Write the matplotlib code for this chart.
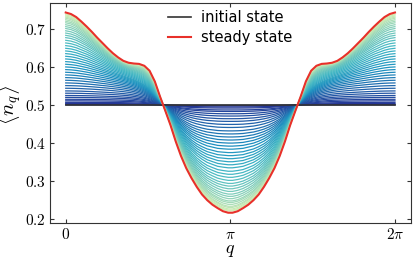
import numpy as np
import matplotlib.pyplot as plt

plt.rcParams['mathtext.fontset'] = 'cm'

# momentum grid on half the zone, the curves are symmetric about q = pi
q_half = [0.0, 0.1, 0.2, 0.3, 0.4, 0.5, 0.6, 0.7, 0.8, 0.9, 1.0,
          1.1, 1.2, 1.3, 1.4, 1.5, 1.6, 1.7, 1.8, 1.9, 2.0,
          2.1, 2.2, 2.3, 2.4, 2.5, 2.6, 2.7, 2.8, 2.9, 3.0, 3.1, 3.1416]

initial_level = 0.5

# steady state <n_q>
steady_half = [0.743, 0.739, 0.731, 0.719, 0.706, 0.692, 0.677, 0.663, 0.649, 0.636, 0.625,
               0.616, 0.611, 0.609, 0.608, 0.603, 0.590, 0.562, 0.522, 0.485, 0.447,
               0.404, 0.366, 0.334, 0.308, 0.285, 0.265, 0.250, 0.238, 0.229, 0.221, 0.217, 0.217]

# normalised shape of the early and intermediate snapshots
# (+1 at q = 0, -1 at q = pi)
shape_early = [1.00, 1.00, 1.00, 1.00, 0.99, 0.99, 0.98, 0.97, 0.96, 0.94, 0.92,
               0.89, 0.85, 0.79, 0.71, 0.61, 0.48, 0.33, 0.14, -0.06, -0.25,
               -0.42, -0.57, -0.69, -0.79, -0.86, -0.91, -0.95, -0.97, -0.99, -1.00, -1.00, -1.00]
shape_mid = [1.00, 0.99, 0.97, 0.94, 0.91, 0.87, 0.83, 0.79, 0.75, 0.71, 0.67,
             0.63, 0.59, 0.55, 0.50, 0.44, 0.36, 0.24, 0.10, -0.05, -0.21,
             -0.37, -0.51, -0.63, -0.73, -0.81, -0.87, -0.92, -0.95, -0.98, -0.99, -1.00, -1.00]

# every snapshot: value at q = 0 and at q = pi
edge_vals = [0.5005, 0.502, 0.504, 0.507, 0.511, 0.515, 0.520, 0.525, 0.531, 0.537,
             0.544, 0.551, 0.558, 0.565, 0.572, 0.579, 0.586, 0.593, 0.600, 0.607,
             0.614, 0.621, 0.628, 0.635, 0.642, 0.649, 0.656, 0.663, 0.670, 0.677,
             0.683, 0.689, 0.695, 0.701, 0.706, 0.711, 0.716, 0.720, 0.724, 0.728,
             0.731, 0.734, 0.737, 0.739]
center_vals = [0.499, 0.498, 0.495, 0.492, 0.487, 0.483, 0.477, 0.471, 0.464, 0.457,
               0.449, 0.441, 0.432, 0.424, 0.416, 0.408, 0.400, 0.392, 0.384, 0.375,
               0.367, 0.359, 0.351, 0.343, 0.335, 0.326, 0.318, 0.310, 0.302, 0.294,
               0.287, 0.280, 0.273, 0.266, 0.260, 0.254, 0.248, 0.244, 0.239, 0.234,
               0.231, 0.227, 0.224, 0.222]


def mirror(vals):
    vals = np.asarray(vals)
    return np.concatenate([vals, vals[::-1][1:]])


qh = np.array(q_half)
q = np.concatenate([qh, 2 * np.pi - qh[::-1][1:]])
steady = np.array(steady_half)
s_steady = np.where(steady >= 0.5,
                    (steady - 0.5) / (steady[0] - 0.5),
                    (steady - 0.5) / (0.5 - steady[-1]))
s_early = np.array(shape_early)
s_mid = np.array(shape_mid)

fig = plt.figure(figsize=(4.15, 2.6), dpi=100)
ax = fig.add_axes([0.1205, 0.1423, 0.8691, 0.8462])

cmap = plt.get_cmap('YlGnBu_r')
n = len(edge_vals)
colors = cmap(np.linspace(0.1, 0.78, n))

for i in range(n):
    p = (edge_vals[i] - 0.5) / (steady[0] - 0.5)
    if p < 0.5:
        shape = s_early * (1 - 2 * p) + s_mid * 2 * p
    else:
        shape = s_mid * (2 - 2 * p) + s_steady * (2 * p - 1)
    prof = np.where(shape >= 0,
                    0.5 + (edge_vals[i] - 0.5) * shape,
                    0.5 + (0.5 - center_vals[i]) * shape)
    ax.plot(q, mirror(prof), color=colors[i], lw=0.9)

ax.plot(q, np.full_like(q, initial_level), color='#333333', lw=1.2,
        label='initial state')
ax.plot(q, mirror(steady), color='#e8302a', lw=1.5, label='steady state')

ax.set_xlim(-0.3, 2 * np.pi + 0.3)
ax.set_ylim(0.19, 0.768)
ax.set_xticks([0, np.pi, 2 * np.pi])
ax.set_xticklabels(['$0$', r'$\pi$', r'$2\pi$'])
ax.set_yticks([0.2, 0.3, 0.4, 0.5, 0.6, 0.7])
ax.set_yticklabels(['$0.2$', '$0.3$', '$0.4$', '$0.5$', '$0.6$', '$0.7$'])
ax.tick_params(direction='in', top=True, right=True, length=3, labelsize=11,
               color='#333333', pad=3)
for sp in ax.spines.values():
    sp.set_color('#333333')
ax.set_xlabel('$q$', fontsize=13, labelpad=-1)
ax.set_ylabel(r'$\langle n_q \rangle$', fontsize=15)
ax.yaxis.set_label_coords(-0.072, 0.535)

ax.legend(loc='upper center', frameon=False, fontsize=10.5, handlelength=1.6,
          borderaxespad=0.1, labelspacing=0.3, handletextpad=0.7)

plt.savefig('out.png', dpi=100)
